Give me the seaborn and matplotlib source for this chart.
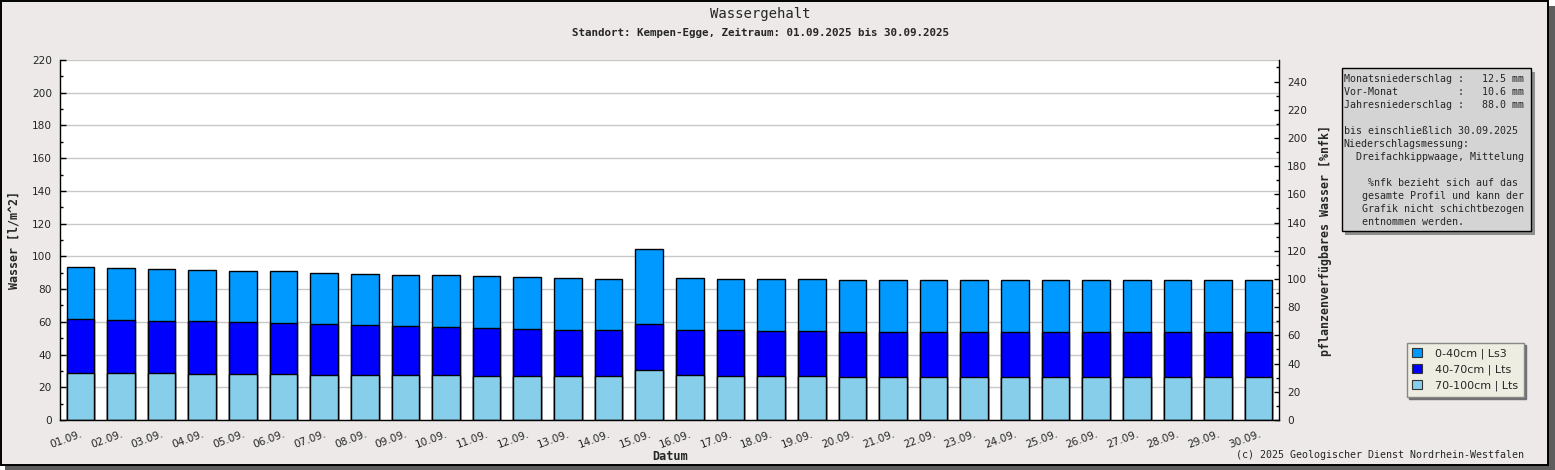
# Wassergehalt Kempen-Egge, September 2025 - gestapelte Balken je Bodenschicht
import matplotlib
matplotlib.use("Agg")
import matplotlib.pyplot as plt
from matplotlib.patches import Rectangle, Patch
from matplotlib.ticker import MultipleLocator
import pandas as pd
import seaborn as sns

# Daten (l/m^2 je Schicht)
datum = ['01.09.', '02.09.', '03.09.', '04.09.', '05.09.', '06.09.', '07.09.', '08.09.', '09.09.', '10.09.',
         '11.09.', '12.09.', '13.09.', '14.09.', '15.09.', '16.09.', '17.09.', '18.09.', '19.09.', '20.09.',
         '21.09.', '22.09.', '23.09.', '24.09.', '25.09.', '26.09.', '27.09.', '28.09.', '29.09.', '30.09.']
schicht_70_100 = [28.9, 28.9, 28.9, 28.3, 28.3, 28.3, 27.7, 27.7, 27.7, 27.7,
                  27.1, 27.1, 27.1, 27.1, 30.8, 27.7, 27.1, 27.1, 27.1, 26.5,
                  26.5, 26.5, 26.5, 26.5, 26.5, 26.5, 26.5, 26.5, 26.5, 26.5]
schicht_40_70 = [32.6, 32.0, 31.4, 32.0, 31.4, 30.8, 30.8, 30.2, 29.6, 29.0,
                 29.0, 28.3, 27.7, 27.7, 27.7, 27.1, 27.7, 27.1, 27.1, 27.1,
                 27.1, 27.1, 27.1, 27.1, 27.1, 27.1, 27.1, 27.1, 27.1, 27.1]
schicht_0_40 = [31.8, 31.8, 31.8, 31.2, 31.2, 31.8, 31.2, 31.2, 31.1, 31.7,
                31.7, 31.8, 31.8, 31.2, 45.8, 31.8, 31.2, 31.8, 31.8, 31.8,
                31.8, 31.8, 31.8, 31.8, 31.8, 31.8, 31.8, 31.8, 31.8, 31.8]
legende = ['0-40cm | Ls3', '40-70cm | Lts', '70-100cm | Lts']
farben = ['#0099FF', '#0000FF', '#87CEEB']

info_zeilen = [
    'Monatsniederschlag :   12.5 mm',
    'Vor-Monat          :   10.6 mm',
    'Jahresniederschlag :   88.0 mm',
    '',
    'bis einschließlich 30.09.2025',
    'Niederschlagsmessung:',
    '  Dreifachkippwaage, Mittelung',
    '',
    '    %nfk bezieht sich auf das',
    '   gesamte Profil und kann der',
    '   Grafik nicht schichtbezogen',
    '   entnommen werden.',
]

df = pd.DataFrame({'Datum': datum, 'c70_100': schicht_70_100,
                   'c40_70': schicht_40_70, 'c0_40': schicht_0_40})
df['bis_70'] = df['c70_100'] + df['c40_70']
df['gesamt'] = df['bis_70'] + df['c0_40']

sns.set_style("white")
plt.rcParams['font.family'] = ['DejaVu Sans']
mono = 'DejaVu Sans Mono'

W, H = 1555, 470


def fx(x):
    return x / W


def fy(y):
    return 1 - y / H


fig = plt.figure(figsize=(W / 100, H / 100), dpi=100, facecolor='white')

# Rahmen mit Schatten
fig.add_artist(Rectangle((fx(5), fy(470)), fx(1555) - fx(5), fy(6) - fy(470), transform=fig.transFigure,
                         facecolor='#5E5E5E', edgecolor='none', zorder=-3))
fig.add_artist(Rectangle((fx(0.7), fy(464.5)), fx(1548) - fx(0.7), fy(0.7) - fy(464.5), transform=fig.transFigure,
                         facecolor='#ECE9E8', edgecolor='black', linewidth=1.4, zorder=-2))

ax = fig.add_axes([fx(60), fy(420), fx(1279) - fx(60), fy(60) - fy(420)])
ax.set_facecolor('white')

# gestapelt: erst Gesamt, dann bis 70cm, dann unterste Schicht
for col, farbe in [('gesamt', farben[0]), ('bis_70', farben[1]), ('c70_100', farben[2])]:
    sns.barplot(data=df, x='Datum', y=col, color=farbe, saturation=1, width=0.68,
                edgecolor='black', linewidth=1, errorbar=None, ax=ax)

ax.set_xlabel('')
ax.set_ylabel('')
ax.set_xlim(-0.5, 29.5)
ax.set_ylim(0, 220)
ax.set_yticks(range(0, 221, 20))
ax.yaxis.set_minor_locator(MultipleLocator(10))
ax.grid(axis='y', color='#C8C8C8', linewidth=1)
ax.set_axisbelow(True)
for s in ['top', 'right']:
    ax.spines[s].set_visible(False)
for s in ['left', 'bottom']:
    ax.spines[s].set_color('black')
    ax.spines[s].set_linewidth(1)

ax.set_xticks(range(len(datum)))
ax.set_xticklabels(datum, rotation=20, ha='right', va='top', rotation_mode='anchor')
ax.set_xticks([i + 0.5 for i in range(len(datum) - 1)], minor=True)
ax.tick_params(axis='x', which='major', length=0, pad=6.5, labelsize=7.6)
ax.tick_params(axis='x', which='minor', direction='in', length=3.6, width=1, color='black')
ax.tick_params(axis='y', which='major', direction='in', length=4.3, width=1, pad=5.8,
               labelsize=7.6, color='black', left=True)
ax.tick_params(axis='y', which='minor', direction='in', length=2.2, width=1, color='black', left=True)

# rechte Achse in %nfk
ax2 = ax.twinx()
ax2.set_ylim(0, 255.3)
ax2.set_yticks(range(0, 241, 20))
ax2.yaxis.set_minor_locator(MultipleLocator(10))
ax2.tick_params(axis='y', which='major', direction='in', length=3.6, width=1, pad=5.8,
                labelsize=7.6, color='black', right=True)
ax2.tick_params(axis='y', which='minor', direction='in', length=2.0, width=1, color='black', right=True)
for s in ['top', 'left', 'bottom']:
    ax2.spines[s].set_visible(False)
ax2.spines['right'].set_color('black')
ax2.spines['right'].set_linewidth(1)

# Titel und Achsenbeschriftungen
fig.text(fx(760), fy(14), 'Wassergehalt', ha='center', va='center', family=mono, fontsize=10)
fig.text(fx(760), fy(33), 'Standort: Kempen-Egge, Zeitraum: 01.09.2025 bis 30.09.2025',
         ha='center', va='center', family=mono, fontsize=7.8, weight='bold')
fig.text(fx(14), fy(240), 'Wasser [l/m^2]', rotation=90, ha='center', va='center',
         family=mono, fontsize=8.4, weight='bold')
fig.text(fx(1326), fy(240), 'pflanzenverfügbares Wasser [%nfk]', rotation=90, ha='center', va='center',
         family=mono, fontsize=8.4, weight='bold')
fig.text(fx(670), fy(457), 'Datum', ha='center', va='center', family=mono, fontsize=8.6, weight='bold')
fig.text(fx(1524), fy(455), '(c) 2025 Geologischer Dienst Nordrhein-Westfalen', ha='right', va='center',
         family=mono, fontsize=7.2)

# Infokasten
fig.add_artist(Rectangle((fx(1345), fy(234.5)), fx(1534.5) - fx(1345), fy(72) - fy(234.5),
                         transform=fig.transFigure, facecolor='#8E8E8E', edgecolor='none', zorder=3))
fig.add_artist(Rectangle((fx(1341.7), fy(230.7)), fx(1530.7) - fx(1341.7), fy(68.3) - fy(230.7),
                         transform=fig.transFigure, facecolor='#D4D4D4', edgecolor='black', linewidth=1, zorder=4))
for i, zeile in enumerate(info_zeilen):
    fig.text(fx(1343.5), fy(79.3 + 13.0 * i), zeile, ha='left', va='center', family=mono,
             fontsize=7.2, zorder=5)

# Legende
handles = [Patch(facecolor=c, edgecolor='#333333', linewidth=0.8, label=l) for c, l in zip(farben, legende)]
fig.legend(handles=handles, loc='upper left', bbox_to_anchor=(fx(1406.7), fy(342.7)),
           frameon=True, fancybox=False, facecolor='#EDEDE1', edgecolor='#888888', framealpha=1,
           shadow={'color': '#707070', 'alpha': 1}, fontsize=8.0, handlelength=0.9, handleheight=0.9,
           handletextpad=1.15, labelspacing=0.45, borderpad=0.5, borderaxespad=0)

fig.savefig('out.png', dpi=100, facecolor=fig.get_facecolor())
